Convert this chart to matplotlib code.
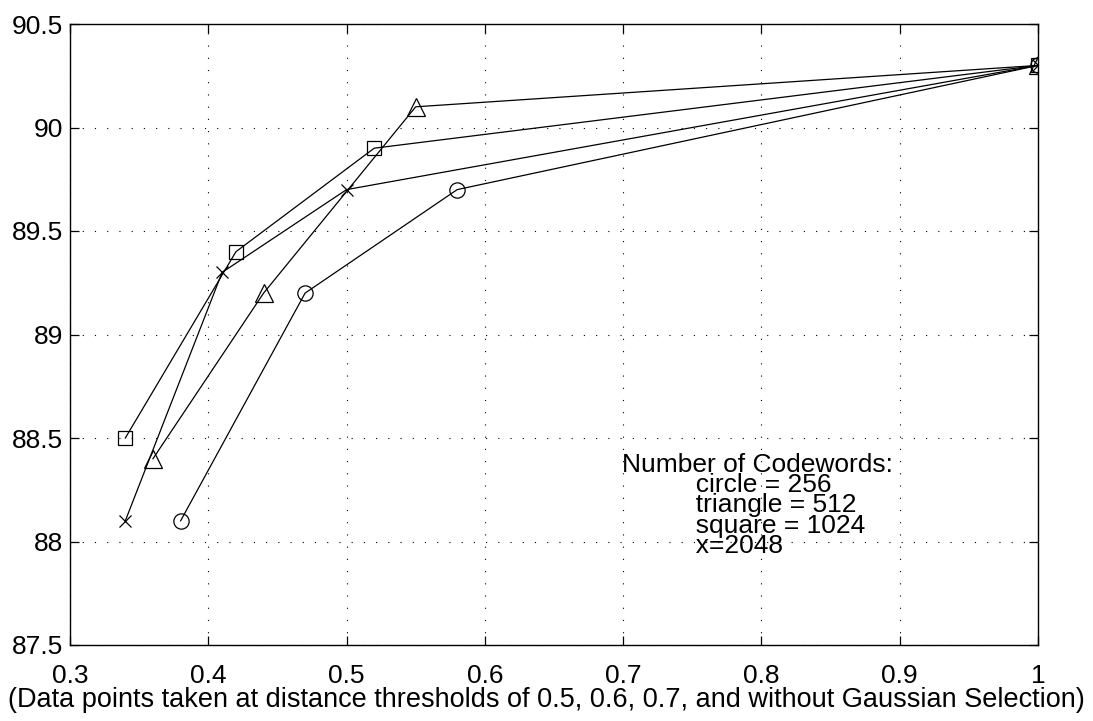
import matplotlib
matplotlib.use("Agg")
import matplotlib.pyplot as plt

plt.rcParams["font.family"] = ["Liberation Sans", "DejaVu Sans"]

# series
x_circle = [0.38, 0.47, 0.58, 1.0]
y_circle = [88.1, 89.2, 89.7, 90.3]
x_triangle = [0.36, 0.44, 0.55, 1.0]
y_triangle = [88.4, 89.2, 90.1, 90.3]
x_square = [0.34, 0.42, 0.52, 1.0]
y_square = [88.5, 89.4, 89.9, 90.3]
x_cross = [0.34, 0.41, 0.50, 1.0]
y_cross = [88.1, 89.3, 89.7, 90.3]

x_ticks = [0.3, 0.4, 0.5, 0.6, 0.7, 0.8, 0.9, 1.0]
x_tick_labels = ["0.3", "0.4", "0.5", "0.6", "0.7", "0.8", "0.9", "1"]
y_ticks = [87.5, 88, 88.5, 89, 89.5, 90, 90.5]
y_tick_labels = ["87.5", "88", "88.5", "89", "89.5", "90", "90.5"]

note_title = "Number of Codewords:"
note_lines = ["circle = 256", "triangle = 512", "square = 1024", "x=2048"]
x_label = "(Data points taken at distance thresholds of 0.5, 0.6, 0.7, and without Gaussian Selection)"

FS = 19

fig = plt.figure(figsize=(10.93, 7.21), dpi=100)
ax = fig.add_axes([70 / 1093, 1 - 645 / 721, 968 / 1093, 621 / 721])

style = dict(color="black", linewidth=0.9, markerfacecolor="none",
             markeredgecolor="black", markeredgewidth=0.9)
ax.plot(x_circle, y_circle, marker="o", markersize=11, **style)
ax.plot(x_triangle, y_triangle, marker="^", markersize=13, **style)
ax.plot(x_square, y_square, marker="s", markersize=9.5, **style)
ax.plot(x_cross, y_cross, marker="x", markersize=8.5, **style)

ax.set_xlim(0.3, 1.0)
ax.set_ylim(87.5, 90.5)
ax.set_xticks(x_ticks)
ax.set_xticklabels(x_tick_labels)
ax.set_yticks(y_ticks)
ax.set_yticklabels(y_tick_labels)
ax.tick_params(direction="in", length=6.5, width=0.9, labelsize=FS,
               top=True, right=True)
ax.tick_params(axis="x", pad=14)
ax.tick_params(axis="y", pad=5)
for s in ax.spines.values():
    s.set_linewidth(1.0)

ax.grid(True, color="black", linestyle=(0, (1, 10)), linewidth=0.8)
ax.set_axisbelow(True)

ax.set_xlabel(x_label, fontsize=19.5)
ax.xaxis.set_label_coords(0.492, -0.067)

# one block of text, the indented lines pushed in with spaces
indent = " " * 10
note = "\n".join([note_title] + [indent + s for s in note_lines])
ax.text(0.699, 88.428, note, fontsize=FS, va="top", ha="left", linespacing=0.8)

fig.savefig("out.png", dpi=100)
